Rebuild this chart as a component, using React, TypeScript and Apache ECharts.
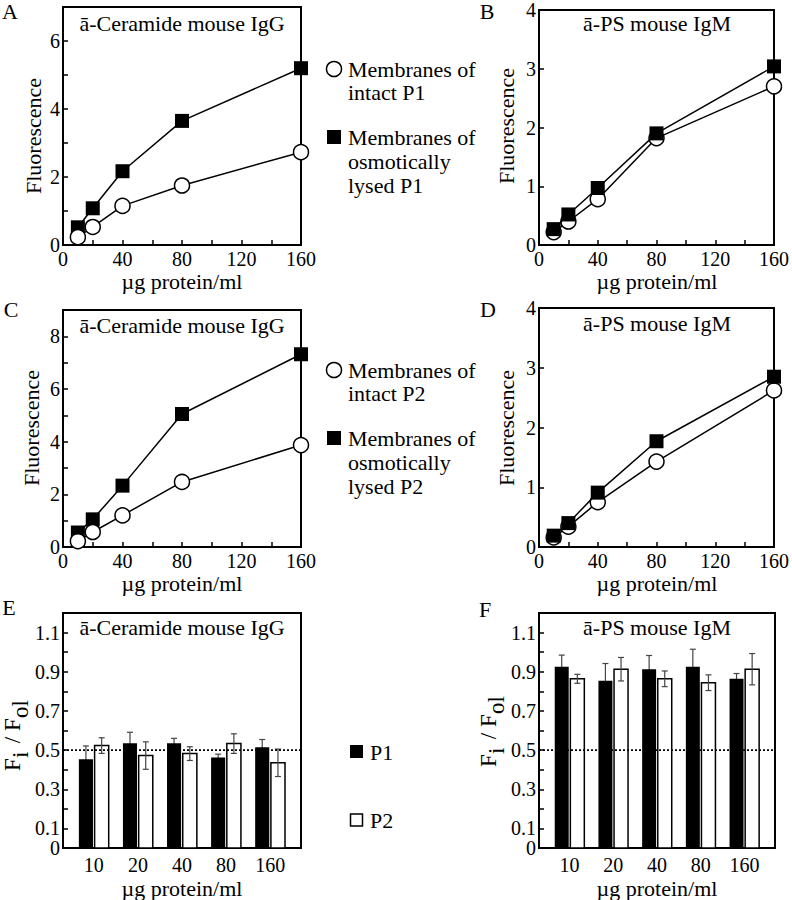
import React, { useEffect, useRef } from 'react';
import * as echarts from 'echarts';

// ---------- data ----------
const concentrations = [10, 20, 40, 80, 160];
const aIntact = [0.23, 0.53, 1.15, 1.75, 2.73];
const aLysed = [0.52, 1.08, 2.17, 3.65, 5.2];
const bIntact = [0.22, 0.4, 0.78, 1.82, 2.7];
const bLysed = [0.27, 0.52, 0.97, 1.9, 3.04];
const cIntact = [0.22, 0.57, 1.2, 2.47, 3.87];
const cLysed = [0.55, 1.05, 2.33, 5.05, 7.32];
const dIntact = [0.16, 0.34, 0.75, 1.43, 2.62];
const dLysed = [0.19, 0.4, 0.91, 1.77, 2.85];

const barCategories = ['10', '20', '40', '80', '160'];
const eP1 = [0.453, 0.535, 0.535, 0.462, 0.514];
const eP1Err = [0.068, 0.056, 0.025, 0.017, 0.04];
const eP2 = [0.523, 0.472, 0.482, 0.533, 0.435];
const eP2Err = [0.04, 0.07, 0.035, 0.05, 0.07];
const fP1 = [0.925, 0.854, 0.913, 0.925, 0.864];
const fP1Err = [0.06, 0.088, 0.07, 0.09, 0.027];
const fP2 = [0.864, 0.913, 0.864, 0.844, 0.913];
const fP2Err = [0.023, 0.06, 0.04, 0.04, 0.08];
const referenceRatio = 0.5;

const FONT = '"Liberation Serif", "Times New Roman", serif';

const axisLineStyle = { show: true, onZero: false, lineStyle: { color: '#000', width: 2 } };
const tickStyle = { show: true, inside: true, length: 5, lineStyle: { color: '#000', width: 1.5 } };
const labelBase = { color: '#000', fontFamily: FONT, fontSize: 20 };

function lineX(gi: number) {
  return {
    type: 'value', gridIndex: gi, min: 0, max: 160, interval: 20,
    axisLine: axisLineStyle, axisTick: tickStyle, splitLine: { show: false },
    axisLabel: { ...labelBase, margin: 4, showMinLabel: true, showMaxLabel: true, formatter: (v: number) => (v % 40 === 0 ? String(v) : '') },
  };
}
function lineY(gi: number, max: number, every: number) {
  return {
    type: 'value', gridIndex: gi, min: 0, max, interval: 1,
    axisLine: axisLineStyle, axisTick: tickStyle, splitLine: { show: false },
    axisLabel: { ...labelBase, margin: 3, showMinLabel: true, showMaxLabel: true, formatter: (v: number) => (v % every === 0 ? String(v) : '') },
  };
}
function barX(gi: number) {
  return {
    type: 'value', gridIndex: gi, min: 0.3, max: 5.7,
    axisLine: axisLineStyle, axisTick: { show: false }, splitLine: { show: false },
    axisLabel: {
      ...labelBase, margin: 7, customValues: [1, 2, 3, 4, 5],
      showMinLabel: true, showMaxLabel: true,
      formatter: (v: number) => (Math.abs(v - Math.round(v)) < 1e-6 ? barCategories[Math.round(v) - 1] ?? '' : ''),
    },
  };
}
function barY(gi: number) {
  return {
    type: 'value', gridIndex: gi, min: 0, max: 1.2, interval: 0.1,
    axisLine: axisLineStyle, axisTick: tickStyle, splitLine: { show: false },
    axisLabel: {
      ...labelBase, margin: 3, lineHeight: 16, showMinLabel: false, showMaxLabel: true,
      formatter: (v: number) => {
        const k = Math.round(v * 10);
        return k % 2 === 1 ? (k / 10).toFixed(1) : '';
      },
    },
  };
}
// companion axis on the same grid that only carries the "0" label
function barYZero(gi: number) {
  return {
    type: 'value', gridIndex: gi, min: 0, max: 1.2, interval: 0.6, position: 'left',
    axisLine: { show: false }, axisTick: { show: false }, splitLine: { show: false },
    axisLabel: {
      ...labelBase, margin: 3, lineHeight: 16, showMinLabel: true, showMaxLabel: false,
      formatter: (v: number) => (v === 0 ? '0' : ''),
    },
  };
}

function lineSeries(gi: number, values: number[], filled: boolean, z: number) {
  return {
    type: 'line', xAxisIndex: gi, yAxisIndex: gi, clip: false, z,
    data: concentrations.map((c, i) => [c, values[i]]),
    symbol: filled ? 'rect' : 'circle', symbolSize: filled ? 14 : 15,
    itemStyle: filled ? { color: '#000' } : { color: '#fff', borderColor: '#000', borderWidth: 1.5 },
    lineStyle: { color: '#000', width: 1.5 },
  };
}

function barSeries(gi: number, p1: number[], p1e: number[], p2: number[], p2e: number[]) {
  return {
    type: 'custom', xAxisIndex: gi, yAxisIndex: gi, z: 3,
    data: barCategories.map((_, i) => [i + 1, p1[i], p1e[i], p2[i], p2e[i]]),
    encode: { x: 0, y: 1 },
    renderItem: (params: any, api: any) => {
      const x = api.value(0);
      const b = api.value(1), be = api.value(2), w = api.value(3), we = api.value(4);
      const base = api.coord([x, 0]);
      const cx = base[0];
      const y0 = base[1];
      const unit = api.size([1, 0])[0];
      const bw = unit * 0.32;
      const gap = unit * 0.02;
      const yb = api.coord([x, b])[1];
      const yw = api.coord([x, w])[1];
      const errStyle = { stroke: '#444', lineWidth: 1.2 };
      const err = (ex: number, v: number, e: number) => {
        const t = api.coord([x, v + e])[1];
        const bo = api.coord([x, v - e])[1];
        return [
          { type: 'line', shape: { x1: ex, y1: t, x2: ex, y2: bo }, style: errStyle },
          { type: 'line', shape: { x1: ex - 3, y1: t, x2: ex + 3, y2: t }, style: errStyle },
          { type: 'line', shape: { x1: ex - 3, y1: bo, x2: ex + 3, y2: bo }, style: errStyle },
        ];
      };
      const bx = cx - gap - bw;
      const wx = cx;
      return {
        type: 'group',
        children: [
          ...err(bx + bw / 2, b, be),
          { type: 'rect', shape: { x: bx, y: yb, width: bw, height: y0 - yb }, style: { fill: '#000' } },
          { type: 'rect', shape: { x: wx + 0.75, y: yw, width: bw, height: y0 - yw }, style: { fill: '#fff', stroke: '#000', lineWidth: 1.5 } },
          ...err(wx + 0.75 + bw / 2, w, we),
        ],
      };
    },
  };
}

function refLine(gi: number) {
  return {
    type: 'line', xAxisIndex: gi, yAxisIndex: gi, z: 4, silent: true,
    data: [[0.3, referenceRatio], [5.7, referenceRatio]], symbol: 'none',
    lineStyle: { color: '#000', width: 1.6, type: [2, 2] },
  };
}

function txt(text: string, x: number, y: number, extra: any = {}) {
  return {
    type: 'text', x, y, ...(extra.rotation !== undefined ? { rotation: extra.rotation } : {}),
    style: {
      text, fill: '#000', fontFamily: FONT, fontSize: extra.fontSize ?? 22,
      align: extra.align ?? 'center', verticalAlign: 'middle',
    },
  };
}

function ratioName(x: number, y: number) {
  const s = { fill: '#000', fontFamily: FONT, fontSize: 23, align: 'left', verticalAlign: 'middle' };
  return {
    type: 'group', x, y, rotation: Math.PI / 2,
    children: [
      { type: 'text', x: -36, y: 0, style: { ...s, text: 'F' } },
      { type: 'text', x: -23, y: 8, style: { ...s, text: 'i' } },
      { type: 'text', x: -14, y: 0, style: { ...s, text: ' / F' } },
      { type: 'text', x: 17, y: 8, style: { ...s, text: 'ol' } },
    ],
  };
}

function legendBlock(dy: number, label: string) {
  return [
    { type: 'circle', shape: { cx: 334, cy: 69 + dy, r: 7.5 }, style: { fill: '#fff', stroke: '#000', lineWidth: 1.5 } },
    txt('Membranes of', 348, 69 + dy, { align: 'left' }),
    txt('intact ' + label, 348, 92 + dy, { align: 'left' }),
    { type: 'rect', shape: { x: 327, y: 130 + dy, width: 14, height: 14 }, style: { fill: '#000' } },
    txt('Membranes of', 348, 137 + dy, { align: 'left' }),
    txt('osmotically', 348, 161 + dy, { align: 'left' }),
    txt('lysed ' + label, 348, 185 + dy, { align: 'left' }),
  ];
}

export default function App() {
  const ref = useRef<HTMLDivElement>(null);
  useEffect(() => {
    if (!ref.current) return;
    const chart = echarts.init(ref.current, undefined, { renderer: 'svg' });
    const gridBase = { show: true, borderColor: '#000', borderWidth: 2, backgroundColor: 'transparent', containLabel: false };
    const option: any = {
      animation: false,
      backgroundColor: '#fff',
      grid: [
        { ...gridBase, left: 63, top: 7, width: 238, height: 238 },
        { ...gridBase, left: 539, top: 7, width: 237, height: 238 },
        { ...gridBase, left: 63, top: 310, width: 238, height: 237 },
        { ...gridBase, left: 539, top: 308, width: 237, height: 239 },
        { ...gridBase, left: 63, top: 613, width: 238, height: 235 },
        { ...gridBase, left: 539, top: 613, width: 236, height: 235 },
      ],
      xAxis: [lineX(0), lineX(1), lineX(2), lineX(3), barX(4), barX(5)],
      yAxis: [lineY(0, 7, 2), lineY(1, 4, 1), lineY(2, 9, 2), lineY(3, 4, 1), barY(4), barY(5), barYZero(4), barYZero(5)],
      series: [
        lineSeries(0, aLysed, true, 2),
        lineSeries(0, aIntact, false, 3),
        lineSeries(1, bIntact, false, 2),
        lineSeries(1, bLysed, true, 3),
        lineSeries(2, cLysed, true, 2),
        lineSeries(2, cIntact, false, 3),
        lineSeries(3, dIntact, false, 2),
        lineSeries(3, dLysed, true, 3),
        barSeries(4, eP1, eP1Err, eP2, eP2Err),
        barSeries(5, fP1, fP1Err, fP2, fP2Err),
        refLine(4),
        refLine(5),
      ],
      graphic: [
        // panel letters
        txt('A', 10, 11), txt('B', 487, 11), txt('C', 11, 309), txt('D', 488, 309), txt('E', 9, 607), txt('F', 485, 609),
        // titles
        txt('ā-Ceramide mouse IgG', 182, 23), txt('ā-PS mouse IgM', 657, 23),
        txt('ā-Ceramide mouse IgG', 182, 325), txt('ā-PS mouse IgM', 657, 323),
        txt('ā-Ceramide mouse IgG', 182, 627), txt('ā-PS mouse IgM', 657, 627),
        // y axis names
        txt('Fluorescence', 33, 136, { rotation: Math.PI / 2 }),
        txt('Fluorescence', 506, 126, { rotation: Math.PI / 2 }),
        txt('Fluorescence', 31, 428, { rotation: Math.PI / 2 }),
        txt('Fluorescence', 506, 428, { rotation: Math.PI / 2 }),
        ratioName(12, 735),
        ratioName(488, 731),
        // x axis names
        txt('µg protein/ml', 182, 281), txt('µg protein/ml', 657, 281),
        txt('µg protein/ml', 182, 583), txt('µg protein/ml', 657, 583),
        txt('µg protein/ml', 182, 888), txt('µg protein/ml', 657, 888),
        // legends
        ...legendBlock(0, 'P1'),
        ...legendBlock(301, 'P2'),
        { type: 'rect', shape: { x: 350, y: 745, width: 13, height: 13 }, style: { fill: '#000' } },
        txt('P1', 370, 752, { align: 'left' }),
        { type: 'rect', shape: { x: 350.5, y: 814, width: 12, height: 12 }, style: { fill: '#fff', stroke: '#000', lineWidth: 1.5 } },
        txt('P2', 370, 820, { align: 'left' }),
      ],
    };
    chart.setOption(option);
    return () => chart.dispose();
  }, []);
  return <div ref={ref} style={{ position: 'absolute', left: 0, top: 0, width: 792, height: 900 }} />;
}
